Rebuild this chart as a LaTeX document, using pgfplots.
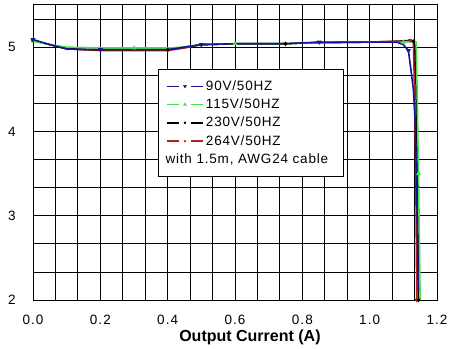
\documentclass[border=0pt]{standalone}
\usepackage{pgfplots}
\pgfplotsset{compat=1.18}
\usepackage{fontspec}
\setmainfont{Liberation Sans}
\definecolor{c90}{RGB}{20,20,150}
\definecolor{c115}{RGB}{70,225,70}
\definecolor{c230}{RGB}{0,0,0}
\definecolor{c264}{RGB}{180,30,30}
\begin{document}
\begin{tikzpicture}
\begin{axis}[
  scale only axis, width=404pt, height=295pt,
  xmin=0, xmax=1.2, ymin=2, ymax=5.5,
  xtick={0,0.2,0.4,0.6,0.8,1.0,1.2},
  ytick={2,3,4,5},
  minor xtick={0.0667,0.1333,0.2667,0.3333,0.4667,0.5333,0.6667,0.7333,0.8667,0.9333,1.0667,1.1333},
  minor ytick={2.3333,2.6667,3.3333,3.6667,4.3333,4.6667,5.3333},
  grid=both,
  major grid style={black, line width=0.8pt},
  minor grid style={black, line width=0.8pt},
  major tick length=0pt, minor tick length=0pt,
  axis line style={black, line width=1pt},
  /pgf/number format/assume math mode=true,
  xticklabel style={/pgf/number format/fixed, /pgf/number format/fixed zerofill, /pgf/number format/precision=1,
     font=\fontsize{13.5}{15}\selectfont\addfontfeature{LetterSpace=8}, anchor=center, yshift=-20pt},
  yticklabel style={font=\fontsize{13.5}{15}\selectfont, anchor=center, xshift=-21pt},
  xlabel={Output Current (A)},
  xlabel style={font=\fontsize{16}{18}\selectfont\bfseries, at={(axis description cs:0.537,0)}, anchor=center, yshift=-37pt},
  legend style={at={(axis description cs:0.309,0.783)}, anchor=north west,
     draw=black, line width=0.8pt, fill=white, inner xsep=8pt, inner ysep=9pt,
     font=\fontsize{13.5}{15}\selectfont\addfontfeature{LetterSpace=6}, row sep=2.6pt,
     nodes={inner sep=2.2pt}},
  legend cell align=left,
  legend image code/.code={
    \draw[#1, mark=none] (0pt,0pt) -- (12pt,0pt);
    \draw[#1, mark=none] (24pt,0pt) -- (36pt,0pt);
    \draw[#1, only marks, mark repeat=1] plot coordinates {(18pt,0pt)};
  },
]
\addlegendimage{c90, line width=1.5pt, mark=triangle*, mark options={rotate=180, line width=0.5pt}, mark size=1.6pt}
\addlegendentry{90V/50HZ}
\addlegendimage{c115, line width=1.5pt, mark=triangle*, mark options={line width=0.5pt}, mark size=1.6pt}
\addlegendentry{115V/50HZ}
\addlegendimage{c230, line width=1.5pt, mark=*, mark options={line width=0.5pt}, mark size=1.0pt}
\addlegendentry{230V/50HZ}
\addlegendimage{c264, line width=1.5pt, mark=triangle*, mark options={rotate=180, line width=0.5pt}, mark size=1.1pt}
\addlegendentry{264V/50HZ}
\addlegendimage{empty legend}
\addlegendentry{\hspace*{-40.4pt}with 1.5m, AWG24 cable\hspace*{5pt}}

\addplot[forget plot, c264, line width=1.6pt, mark=triangle*, mark options={rotate=180}, mark size=0.9pt, mark repeat=4] coordinates {
(0,5.08) (0.1,4.98) (0.2,4.96) (0.3,4.96) (0.4,4.96) (0.45,4.99) (0.5,5.03) (0.6,5.04) (0.75,5.04) (0.8,5.05) (1.0,5.06) (1.08,5.07) (1.12,5.08) (1.13,5.06) (1.133,4.5) (1.137,3.5) (1.14,2.0)
};
\addplot[forget plot, c230, line width=1.6pt, mark=*, mark size=0.9pt, mark repeat=4] coordinates {
(0,5.08) (0.1,4.98) (0.2,4.97) (0.3,4.97) (0.4,4.97) (0.45,5.00) (0.5,5.03) (0.6,5.04) (0.75,5.04) (0.8,5.05) (1.0,5.06) (1.1,5.07) (1.13,5.07) (1.136,5.0) (1.14,4.0) (1.143,3.0) (1.145,2.0)
};
\addplot[forget plot, c115, line width=1.6pt, mark=triangle*, mark size=1.3pt, mark repeat=4] coordinates {
(0,5.07) (0.05,5.03) (0.1,5.00) (0.2,4.99) (0.3,4.99) (0.4,4.99) (0.45,5.00) (0.5,5.03) (0.6,5.04) (0.75,5.04) (0.8,5.05) (1.0,5.06) (1.1,5.06) (1.13,5.07) (1.138,5.06) (1.141,4.5) (1.145,3.5) (1.148,2.6) (1.15,2.0)
};
\addplot[forget plot, c90, line width=1.6pt, mark=triangle*, mark options={rotate=180}, mark size=1.3pt, mark repeat=4] coordinates {
(0,5.09) (0.05,5.03) (0.1,4.98) (0.15,4.97) (0.2,4.97) (0.3,4.97) (0.4,4.97) (0.45,5.00) (0.5,5.03) (0.6,5.04) (0.75,5.04) (0.8,5.05) (0.85,5.06) (1.0,5.06) (1.08,5.06) (1.1,5.03) (1.115,4.96) (1.123,4.72) (1.13,4.49) (1.135,4.13) (1.14,3.34) (1.144,2.15) (1.145,2.12)
};
\end{axis}
\pgfresetboundingbox
\path[use as bounding box] (-33pt,-48pt) rectangle (430pt,300pt);
\end{tikzpicture}
\end{document}
